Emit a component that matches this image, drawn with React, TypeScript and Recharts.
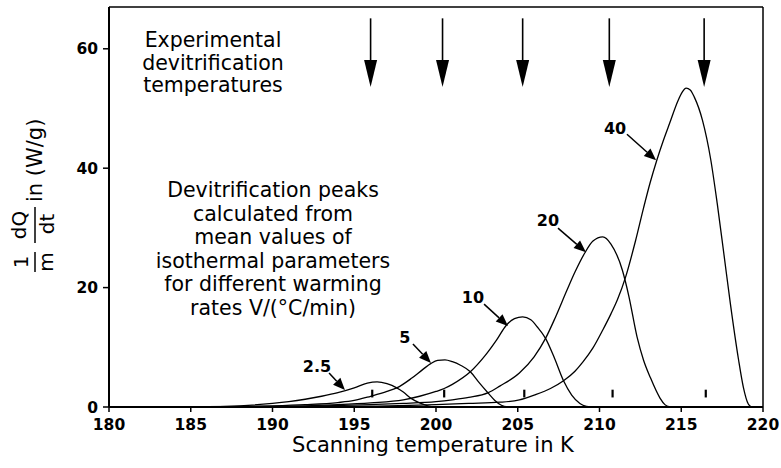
import React from 'react';
import { LineChart, Line, XAxis, YAxis, ReferenceLine, ReferenceDot } from 'recharts';

// axes
const xTicks = [180, 185, 190, 195, 200, 205, 210, 215, 220];
const yTicks = [0, 20, 40, 60];

// calculated devitrification peaks, one per warming rate V (°C/min)
const t2_5 = [184, 186, 188, 190, 191, 192, 193, 194, 195, 195.8, 196.4, 197, 197.6, 198, 198.5, 199, 199.5, 200];
const q2_5 = [0, 0.05, 0.2, 0.6, 0.9, 1.3, 1.8, 2.4, 3.2, 4.0, 4.2, 3.9, 3.2, 2.5, 1.4, 0.7, 0.2, 0];

const t5 = [184, 188, 190, 192, 194, 195, 196, 197, 197.6, 198.5, 199.2, 199.7, 200.1, 200.55, 201, 201.5, 202.1, 202.6, 203.2, 203.6, 204, 204.4];
const q5 = [0, 0.08, 0.2, 0.4, 0.75, 1.1, 1.8, 2.6, 3.2, 4.8, 6.3, 7.3, 7.8, 7.9, 7.6, 7.0, 5.9, 4.2, 2.3, 1.1, 0.3, 0];

const t10 = [186, 190, 192, 194, 196, 198, 199, 200, 200.5, 201, 202.1, 203, 203.7, 204.3, 204.8, 205.3, 205.8, 206.2, 206.7, 207.2, 207.8, 208.3, 208.8, 209.2, 209.5];
const q10 = [0, 0.08, 0.2, 0.4, 0.7, 1.2, 1.8, 2.6, 3.1, 3.8, 5.9, 8.6, 11.2, 13.7, 14.8, 15.1, 14.6, 13.4, 11.5, 8.5, 4.4, 2.0, 0.6, 0.1, 0];

const t20 = [188, 192, 196, 198, 200, 201, 202, 203.2, 203.9, 205.1, 206, 206.7, 207.3, 208, 208.5, 209.1, 209.6, 210.2, 210.7, 211.4, 211.8, 212.3, 212.7, 213.1, 213.7, 214, 214.3];
const q20 = [0, 0.1, 0.4, 0.6, 0.9, 1.2, 1.6, 2.4, 3.5, 5.7, 8.4, 11.5, 15, 19.5, 22.6, 25.8, 27.8, 28.5, 27.3, 22.9, 18.5, 11.7, 7.8, 5.0, 1.5, 0.4, 0];

const t40 = [190, 195, 200, 202, 203.9, 205.1, 206, 207, 207.8, 208.5, 209, 209.6, 210.2, 210.7, 211.1, 211.6, 212.2, 212.7, 213.1, 213.5, 213.9, 214.3, 214.8, 215.05, 215.3, 215.55, 215.8, 216.3, 216.8, 217.2, 217.6, 218, 218.5, 218.8, 219.1, 219.3];
const q40 = [0, 0.1, 0.4, 0.6, 0.8, 1.2, 2.0, 3.1, 4.4, 6.0, 7.6, 9.9, 12.9, 15.6, 18.0, 21.8, 27.8, 33.4, 37.6, 41.3, 44.6, 47.6, 51.3, 52.7, 53.4, 53.1, 51.9, 48, 41.5, 34.1, 25.8, 17.4, 8, 3.3, 0.5, 0];

// experimental devitrification temperatures (arrows at top) and the marks near the baseline
const expTemps = [196.0, 200.4, 205.3, 210.6, 216.4];
const markTemps = [196.1, 200.5, 205.4, 210.8, 216.5];

// rate labels with pointer arrows (data coordinates)
const rateLabels = ['2.5', '5', '10', '20', '40'];
const labelT = [192.72, 198.1, 202.26, 206.85, 210.95];
const labelQ = [6.86, 11.72, 18.41, 31.3, 46.69];
const tailT = [193.46, 198.59, 202.94, 207.46, 211.68];
const tailQ = [5.69, 10.54, 17.24, 29.96, 45.69];
const tipT = [194.43, 199.69, 204.4, 209.17, 213.46];
const tipQ = [2.85, 7.36, 13.56, 25.94, 41.34];

const toPoints = (t: number[], q: number[]) => t.map((x, i) => ({ t: x, q: q[i] }));

const curves = [
  { rate: '2.5', data: toPoints(t2_5, q2_5) },
  { rate: '5', data: toPoints(t5, q5) },
  { rate: '10', data: toPoints(t10, q10) },
  { rate: '20', data: toPoints(t20, q20) },
  { rate: '40', data: toPoints(t40, q40) },
];

const FONT = '"DejaVu Sans", sans-serif';

const arrowShape = (headLen: number, headHalf: number, width: number) => (props: any) => {
  const { x1, y1, x2, y2 } = props;
  const dx = x2 - x1;
  const dy = y2 - y1;
  const len = Math.hypot(dx, dy) || 1;
  const ux = dx / len;
  const uy = dy / len;
  const bx = x2 - ux * headLen;
  const by = y2 - uy * headLen;
  const px = -uy * headHalf;
  const py = ux * headHalf;
  return (
    <g>
      <line x1={x1} y1={y1} x2={bx} y2={by} stroke="#000" strokeWidth={width} />
      <polygon points={`${x2},${y2} ${bx + px},${by + py} ${bx - px},${by - py}`} fill="#000" />
    </g>
  );
};

const textShape = (label: string) => (p: any) => (
  <text x={p.cx} y={p.cy} textAnchor="middle" dominantBaseline="central"
    fontFamily={FONT} fontSize={16} fontWeight={700} fill="#000">{label}</text>
);

const tickStyle = { fontFamily: FONT, fontSize: 15.5, fontWeight: 700, fill: '#000' };

const App: React.FC = () => {
  return (
    <div style={{ position: 'absolute', left: 0, top: 0, width: 781, height: 468, background: '#fff', fontFamily: FONT }}>
      <LineChart width={781} height={468} margin={{ top: 7, right: 18, bottom: 31, left: 0 }}>
        <XAxis type="number" dataKey="t" domain={[180, 220]} ticks={xTicks} allowDataOverflow
          height={30} tickSize={5} tickMargin={7} tick={tickStyle}
          axisLine={{ stroke: '#000', strokeWidth: 2 }} tickLine={{ stroke: '#000', strokeWidth: 1.5 }} />
        <YAxis type="number" domain={[0, 67]} ticks={yTicks} allowDataOverflow
          width={109} tickSize={6} tickMargin={5} tick={tickStyle}
          axisLine={{ stroke: '#000', strokeWidth: 2 }} tickLine={{ stroke: '#000', strokeWidth: 1.5 }} />

        {/* frame */}
        <ReferenceLine y={67} stroke="#000" strokeWidth={1.5} />
        <ReferenceLine x={220} stroke="#000" strokeWidth={1.5} />

        {curves.map(c => (
          <Line key={c.rate} data={c.data} dataKey="q" type="monotone" stroke="#000"
            strokeWidth={1.3} dot={false} activeDot={false} isAnimationActive={false} />
        ))}

        {/* experimental temperatures */}
        {expTemps.map(t => (
          <ReferenceLine key={`e${t}`} segment={[{ x: t, y: 65.1 }, { x: t, y: 53.6 }]}
            shape={arrowShape(27, 6.5, 1.6)} />
        ))}
        {markTemps.map(t => (
          <ReferenceLine key={`m${t}`} segment={[{ x: t, y: 1.6 }, { x: t, y: 2.9 }]}
            stroke="#000" strokeWidth={2.2} />
        ))}

        {/* rate labels */}
        {rateLabels.map((r, i) => (
          <ReferenceLine key={`a${r}`} segment={[{ x: tailT[i], y: tailQ[i] }, { x: tipT[i], y: tipQ[i] }]}
            shape={arrowShape(12, 5, 1.5)} />
        ))}
        {rateLabels.map((r, i) => (
          <ReferenceDot key={`l${r}`} x={labelT[i]} y={labelQ[i]} r={0} shape={textShape(r)} />
        ))}
      </LineChart>

      {/* y axis title */}
      <svg width={70} height={468} style={{ position: 'absolute', left: 0, top: 0 }}>
        <g transform="translate(35,240) rotate(-90)" fontFamily={FONT} fill="#000">
          <text x={-22} y={-7} textAnchor="middle" fontSize={20}>1</text>
          <line x1={-32} x2={-12} y1={0} y2={0} stroke="#000" strokeWidth={1.5} />
          <text x={-22} y={18} textAnchor="middle" fontSize={20}>m</text>
          <text x={15} y={-9} textAnchor="middle" fontSize={20}>dQ</text>
          <line x1={-3} x2={33} y1={0} y2={0} stroke="#000" strokeWidth={1.5} />
          <text x={16} y={19} textAnchor="middle" fontSize={20}>dt</text>
          <text x={38} y={7} textAnchor="start" fontSize={21}>in (W/g)</text>
        </g>
      </svg>

      <div style={{ position: 'absolute', left: 103, top: 29, width: 220, textAlign: 'center', fontSize: 20.5, lineHeight: '22.5px', color: '#000' }}>
        Experimental<br />devitrification<br />temperatures
      </div>

      <div style={{ position: 'absolute', left: 133, top: 179, width: 280, textAlign: 'center', fontSize: 20.5, lineHeight: '23.5px', color: '#000' }}>
        Devitrification peaks<br />calculated from<br />mean values of<br />isothermal parameters<br />for different warming<br />rates V/(°C/min)
      </div>

      <div style={{ position: 'absolute', left: 233, top: 435, width: 400, textAlign: 'center', fontSize: 21, lineHeight: '21px', color: '#000' }}>
        Scanning temperature in K
      </div>
    </div>
  );
};

export default App;
